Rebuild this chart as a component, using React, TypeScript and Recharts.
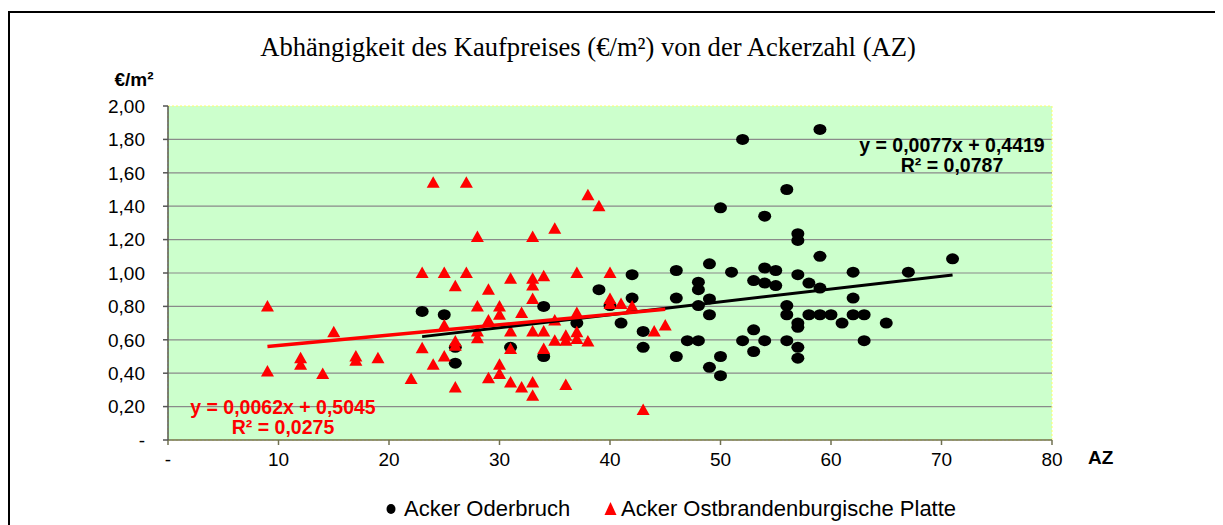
import React from "react";
import {
  ScatterChart,
  Scatter,
  XAxis,
  YAxis,
  CartesianGrid,
  ReferenceArea,
} from "recharts";

// Acker Oderbruch: [Ackerzahl, €/m²]
const ODERBRUCH: [number, number][] = [
  [23, 0.77], [25, 0.75], [26, 0.555], [26, 0.46], [31, 0.555], [34, 0.8], [34, 0.5],
  [37, 0.7], [39, 0.9], [40, 0.805], [41, 0.7], [42, 0.99], [42, 0.85], [43, 0.65],
  [43, 0.555], [46, 1.015], [46, 0.85], [46, 0.5], [47, 0.595], [48, 0.945], [48, 0.9],
  [48, 0.805], [48, 0.595], [49, 1.055], [49, 0.845], [49, 0.75], [49, 0.435], [50, 1.39],
  [50, 0.5], [50, 0.385], [51, 1.005], [52, 1.8], [52, 0.595], [53, 0.955], [53, 0.66],
  [53, 0.53], [54, 1.34], [54, 1.03], [54, 0.94], [54, 0.595], [55, 1.015], [55, 0.925],
  [56, 1.5], [56, 0.805], [56, 0.75], [56, 0.595], [57, 1.235], [57, 1.195], [57, 0.99],
  [57, 0.7], [57, 0.675], [57, 0.555], [57, 0.49], [58, 0.94], [58, 0.75], [59, 1.86],
  [59, 1.1], [59, 0.91], [59, 0.75], [60, 0.75], [61, 0.7], [62, 1.005], [62, 0.85],
  [62, 0.75], [63, 0.75], [63, 0.595], [65, 0.7], [67, 1.005], [71, 1.085],
];

// Acker Ostbrandenburgische Platte
const OSTBRANDENBURG: [number, number][] = [
  [9, 0.8], [9, 0.41], [12, 0.49], [12, 0.45], [14, 0.395], [15, 0.645], [17, 0.5],
  [17, 0.475], [19, 0.49], [22, 0.365], [23, 1.0], [23, 0.55], [24, 1.54], [24, 0.45],
  [25, 1.0], [25, 0.685], [25, 0.5], [26, 0.92], [26, 0.59], [26, 0.565], [26, 0.315],
  [27, 1.54], [27, 1.0], [28, 1.215], [28, 0.8], [28, 0.65], [28, 0.61], [29, 0.9],
  [29, 0.715], [29, 0.37], [30, 0.8], [30, 0.75], [30, 0.45], [30, 0.395], [31, 0.965],
  [31, 0.65], [31, 0.545], [31, 0.345], [32, 0.76], [32, 0.315], [33, 1.215], [33, 0.965],
  [33, 0.925], [33, 0.845], [33, 0.65], [33, 0.345], [33, 0.265], [34, 0.98], [34, 0.65],
  [34, 0.545], [35, 1.265], [35, 0.715], [35, 0.595], [36, 0.625], [36, 0.595], [36, 0.33],
  [37, 1.0], [37, 0.76], [37, 0.645], [37, 0.605], [38, 1.465], [38, 0.59], [39, 1.4],
  [40, 1.0], [40, 0.845], [40, 0.815], [41, 0.815], [42, 0.8], [43, 0.18], [44, 0.65],
  [45, 0.685],
];

// linear trend coefficients shown in the chart
const TREND_ODER = { slope: 0.0077, intercept: 0.4419, r2: 0.0787 };
const TREND_OST = { slope: 0.0062, intercept: 0.5045, r2: 0.0275 };

const X_TICKS = [0, 10, 20, 30, 40, 50, 60, 70, 80];
const Y_TICKS = [0, 0.2, 0.4, 0.6, 0.8, 1.0, 1.2, 1.4, 1.6, 1.8, 2.0];

const TITLE = "Abhängigkeit des Kaufpreises (€/m²) von der Ackerzahl (AZ)";
const NAME_ODER = "Acker Oderbruch";
const NAME_OST = "Acker Ostbrandenburgische Platte";

const toPoints = (arr: [number, number][]) => arr.map(([x, y]) => ({ x, y }));

function trendPoints(arr: [number, number][], t: { slope: number; intercept: number }) {
  const xs = arr.map((p) => p[0]);
  const lo = Math.min(...xs);
  const hi = Math.max(...xs);
  return [lo, hi].map((x) => ({ x, y: t.slope * x + t.intercept }));
}

const de = (v: number, d: number) => v.toFixed(d).replace(".", ",");
const eqText = (t: { slope: number; intercept: number }) =>
  `y = ${de(t.slope, 4)}x + ${de(t.intercept, 4)}`;

const Dot = (p: any) => <ellipse cx={p.cx} cy={p.cy} rx={6.5} ry={5.5} fill="#000" />;
const Tri = (p: any) => (
  <polygon
    points={`${p.cx},${p.cy - 6.5} ${p.cx + 6.5},${p.cy + 5} ${p.cx - 6.5},${p.cy + 5}`}
    fill="#ff0000"
  />
);
const NoShape = () => <g />;

const sans = "'Liberation Sans', Arial, sans-serif";

export default function App() {
  return (
    <div
      style={{
        position: "relative",
        width: 1223,
        height: 525,
        margin: "-8px 0 0 -8px",
        overflow: "hidden",
        background: "#fff",
        fontFamily: sans,
      }}
    >
      <div
        style={{
          position: "absolute",
          left: 8,
          top: 11,
          width: 1300,
          height: 600,
          borderTop: "2px solid #000",
          borderLeft: "2px solid #000",
        }}
      />
      <div
        style={{
          position: "absolute",
          left: 0,
          width: 1176,
          top: 30,
          textAlign: "center",
          fontFamily: "'Liberation Serif', 'Times New Roman', serif",
          fontSize: 26.6,
          lineHeight: "34px",
        }}
      >
        {TITLE}
      </div>
      <div
        style={{
          position: "absolute",
          left: 84,
          width: 100,
          top: 69,
          textAlign: "center",
          fontWeight: "bold",
          fontSize: 19,
          lineHeight: "22px",
        }}
      >
        €/m²
      </div>

      <ScatterChart
        width={1223}
        height={525}
        margin={{ top: 106, right: 171, bottom: 55, left: 108 }}
        style={{ position: "absolute", left: 0, top: 0 }}
      >
        <CartesianGrid
          fill="#ccffcc"
          vertical={false}
          stroke="#8a8a8a"
          strokeWidth={1.2}
          horizontalValues={Y_TICKS.slice(1, -1)}
        />
        <ReferenceArea
          x1={0}
          x2={80}
          y1={0}
          y2={2}
          fill="none"
          stroke="#ffff66"
          strokeDasharray="2 2"
        />
        <XAxis
          type="number"
          dataKey="x"
          domain={[0, 80]}
          ticks={X_TICKS}
          tickFormatter={(v: number) => (v === 0 ? "-" : String(v))}
          tick={{ fontSize: 19, fill: "#000", fontFamily: sans }}
          tickSize={5}
          tickMargin={8}
          height={30}
          stroke="#707050"
          strokeWidth={1.5}
          allowDecimals={false}
        />
        <YAxis
          type="number"
          dataKey="y"
          domain={[0, 2]}
          ticks={Y_TICKS}
          tickFormatter={(v: number) => (v === 0 ? "-" : de(v, 2))}
          tick={{ fontSize: 19, fill: "#000", fontFamily: sans }}
          tickSize={5}
          tickMargin={18}
          width={60}
          stroke="#555"
          strokeWidth={1.5}
        />
        <Scatter
          name={NAME_ODER}
          data={toPoints(ODERBRUCH)}
          shape={Dot}
          isAnimationActive={false}
        />
        <Scatter
          name={NAME_OST}
          data={toPoints(OSTBRANDENBURG)}
          shape={Tri}
          isAnimationActive={false}
        />
        <Scatter
          data={trendPoints(ODERBRUCH, TREND_ODER)}
          line={{ stroke: "#000", strokeWidth: 3 }}
          shape={NoShape}
          legendType="none"
          isAnimationActive={false}
        />
        <Scatter
          data={trendPoints(OSTBRANDENBURG, TREND_OST)}
          line={{ stroke: "#ff0000", strokeWidth: 3.5 }}
          shape={NoShape}
          legendType="none"
          isAnimationActive={false}
        />
      </ScatterChart>

      {/* trend equations */}
      <div
        style={{
          position: "absolute",
          left: 842,
          width: 220,
          top: 135,
          textAlign: "center",
          fontWeight: "bold",
          fontSize: 19.5,
          lineHeight: "20px",
          color: "#000",
        }}
      >
        <div>{eqText(TREND_ODER)}</div>
        <div>R² = {de(TREND_ODER.r2, 4)}</div>
      </div>
      <div
        style={{
          position: "absolute",
          left: 173,
          width: 220,
          top: 397,
          textAlign: "center",
          fontWeight: "bold",
          fontSize: 19.5,
          lineHeight: "20px",
          color: "#ff0000",
        }}
      >
        <div>{eqText(TREND_OST)}</div>
        <div>R² = {de(TREND_OST.r2, 4)}</div>
      </div>

      <div
        style={{
          position: "absolute",
          left: 1088,
          top: 447,
          fontWeight: "bold",
          fontSize: 19,
          lineHeight: "22px",
        }}
      >
        AZ
      </div>

      {/* legend */}
      <svg style={{ position: "absolute", left: 0, top: 495 }} width={700} height={30}>
        <ellipse cx={391} cy={14} rx={4.5} ry={5} fill="#000" />
        <polygon points="610.5,7 616.5,20 604.5,20" fill="#ff0000" />
      </svg>
      <div
        style={{
          position: "absolute",
          left: 404,
          top: 496,
          fontSize: 22,
          lineHeight: "26px",
        }}
      >
        {NAME_ODER}
      </div>
      <div
        style={{
          position: "absolute",
          left: 621,
          top: 496,
          fontSize: 22,
          lineHeight: "26px",
        }}
      >
        {NAME_OST}
      </div>
    </div>
  );
}
